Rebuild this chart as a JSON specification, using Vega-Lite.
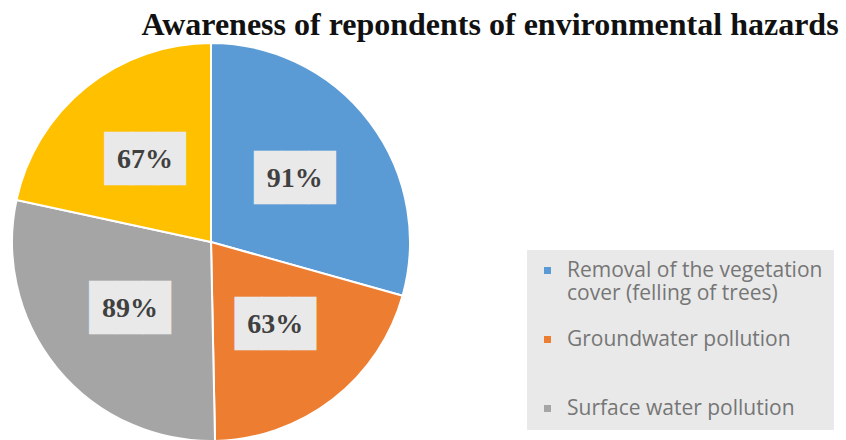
{
  "$schema": "https://vega.github.io/schema/vega-lite/v6.json",
  "width": 398,
  "height": 398,
  "autosize": {"type": "none"},
  "padding": {"left": 12, "top": 43, "right": 436, "bottom": 0},
  "background": "white",
  "title": {
    "text": "Awareness of repondents of environmental hazards",
    "font": "Liberation Serif",
    "fontSize": 32,
    "fontWeight": "bold",
    "color": "#111111",
    "anchor": "middle",
    "frame": "group",
    "dx": 279,
    "offset": -3
  },
  "data": {
    "values": [
      {"category": "Removal of the vegetation cover (felling of trees)", "value": 91, "label": "91%", "rank": 1},
      {"category": "Groundwater pollution", "value": 63, "label": "63%", "rank": 2},
      {"category": "Surface water pollution", "value": 89, "label": "89%", "rank": 3},
      {"category": "Air pollution", "value": 67, "label": "67%", "rank": 4}
    ]
  },
  "encoding": {
    "theta": {"field": "value", "type": "quantitative", "stack": true},
    "order": {"field": "rank", "type": "quantitative"}
  },
  "layer": [
    {
      "mark": {"type": "arc", "stroke": "white", "strokeWidth": 2},
      "encoding": {
        "color": {
          "field": "category",
          "type": "nominal",
          "scale": {
            "domain": ["Removal of the vegetation cover (felling of trees)", "Groundwater pollution", "Surface water pollution", "Air pollution"],
            "range": ["#5b9bd5", "#ed7d31", "#a5a5a5", "#ffc000"]
          },
          "legend": {
            "orient": "none",
            "legendX": 515,
            "legendY": 207,
            "title": null,
            "values": ["Removal of the vegetation cover (felling of trees)", "Groundwater pollution", "Surface water pollution"],
            "labelExpr": "datum.label == 'Removal of the vegetation cover (felling of trees)' ? ['Removal of the vegetation', 'cover (felling of trees)'] : datum.label == 'Groundwater pollution' ? [datum.label, ''] : datum.label",
            "labelFont": "Open Sans",
            "labelFontSize": 21,
            "labelLineHeight": 20,
            "labelOffset": 9,
            "labelColor": "#767676",
            "labelLimit": 330,
            "symbolType": "square",
            "symbolSize": 49,
            "symbolStrokeWidth": 0,
            "rowPadding": 24,
            "padding": 10,
            "fillColor": "#e9e9e9",
            "strokeColor": "#e9e9e9"
          }
        }
      }
    },
    {
      "mark": {"type": "text", "text": "███", "font": "DejaVu Sans Mono", "fontSize": 45, "color": "#e9e9e9", "radius": 105, "baseline": "middle", "align": "center"},
      "encoding": {}
    },
    {
      "mark": {"type": "text", "font": "Liberation Serif", "fontWeight": "bold", "fontSize": 28, "color": "#404040", "radius": 105, "baseline": "middle", "align": "center"},
      "encoding": {"text": {"field": "label", "type": "nominal"}}
    }
  ],
  "config": {"view": {"stroke": null}}
}
